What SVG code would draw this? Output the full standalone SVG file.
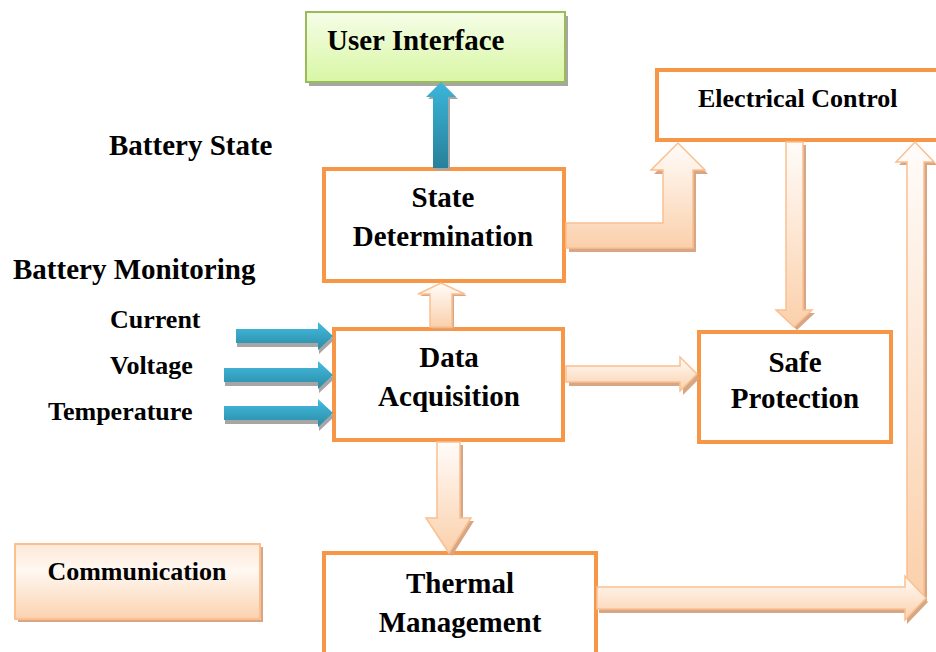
<svg xmlns="http://www.w3.org/2000/svg" width="936" height="652" viewBox="0 0 936 652">
<style>
.box{fill:#ffffff;stroke:#f79646;stroke-width:4}
.t{font-family:"Liberation Serif","Times New Roman",serif;font-weight:bold;fill:#000}
.big{font-size:29px}
.mid{font-size:26px}
.pa{fill:url(#peach);stroke:#fac090;stroke-width:1.5;stroke-linejoin:miter}
.ps{fill:#d7a684}
.ba{fill:url(#blue)}
.bs{fill:#a6a6a6}
</style>
<defs>
<linearGradient id="peach" x1="0" y1="0" x2="0" y2="1">
<stop offset="0" stop-color="#fffcfa"/>
<stop offset="1" stop-color="#fbd0ab"/>
</linearGradient>
<linearGradient id="blue" x1="0" y1="0" x2="0" y2="1">
<stop offset="0" stop-color="#45bde0"/>
<stop offset="1" stop-color="#2a8aa6"/>
</linearGradient>
<linearGradient id="blueV" x1="0" y1="0" x2="0" y2="1">
<stop offset="0" stop-color="#3cb6da"/>
<stop offset="1" stop-color="#27809a"/>
</linearGradient>
<linearGradient id="green" x1="0" y1="0" x2="0" y2="1">
<stop offset="0" stop-color="#f6fde8"/>
<stop offset="1" stop-color="#d8f7a4"/>
</linearGradient>
<linearGradient id="comm" x1="0" y1="0" x2="0" y2="1">
<stop offset="0" stop-color="#fde8d6"/>
<stop offset="0.35" stop-color="#fff8f2"/>
<stop offset="1" stop-color="#fbd2b0"/>
</linearGradient>
</defs>

<g id="labels">
<text class="t big" x="109" y="155">Battery State</text>
<text class="t big" x="13" y="279">Battery Monitoring</text>
<text class="t mid" x="110" y="328">Current</text>
<text class="t mid" x="110" y="374">Voltage</text>
<text class="t mid" x="48" y="420">Temperature</text>
</g>

<g id="user-interface">
<rect x="309" y="16" width="259" height="70" fill="#a6a6a6"/>
<rect x="306" y="12" width="259" height="70" fill="url(#green)" stroke="#9bbb59" stroke-width="2"/>
<text class="t big" x="327" y="50">User Interface</text>
</g>

<g id="electrical-control">
<rect class="box" x="657" y="70" width="300" height="70"/>
<text class="t mid" x="698" y="107">Electrical Control</text>
</g>

<g id="state-determination">
<rect class="box" x="324" y="169" width="240" height="112"/>
<text class="t big" x="443" y="207" text-anchor="middle">State</text>
<text class="t big" x="443" y="246" text-anchor="middle">Determination</text>
</g>

<g id="data-acquisition">
<rect class="box" x="334" y="329" width="229" height="111"/>
<text class="t big" x="449" y="367" text-anchor="middle">Data</text>
<text class="t big" x="449" y="406" text-anchor="middle">Acquisition</text>
</g>

<g id="safe-protection">
<rect class="box" x="699" y="332" width="192" height="110"/>
<text class="t big" x="795" y="372" text-anchor="middle">Safe</text>
<text class="t big" x="795" y="408" text-anchor="middle">Protection</text>
</g>

<g id="thermal-management">
<rect class="box" x="324" y="553" width="272" height="120"/>
<text class="t big" x="460" y="593" text-anchor="middle">Thermal</text>
<text class="t big" x="460" y="632" text-anchor="middle">Management</text>
</g>

<g id="communication">
<rect x="18" y="547" width="245" height="75" fill="#d7a684"/>
<rect x="15" y="544" width="245" height="75" fill="url(#comm)" stroke="#fac090" stroke-width="2"/>
<text class="t mid" x="137" y="580" text-anchor="middle">Communication</text>
</g>

<g id="connectors">
<!-- State Determination -> User Interface -->
<path d="M433,168 L433,97 L426,97 L441,82 L456,97 L448,97 L448,168 Z" fill="#a6a6a6" transform="translate(2,2)"/>
<path d="M433,168 L433,97 L426,97 L441,82 L456,97 L448,97 L448,168 Z" fill="url(#blueV)"/>

<!-- inputs -->
<path id="inC" d="M236,329 L318,329 L318,322 L333,336 L318,350 L318,343 L236,343 Z" class="bs" transform="translate(1,4)"/>
<path d="M236,329 L318,329 L318,322 L333,336 L318,350 L318,343 L236,343 Z" class="ba"/>
<path d="M224,368 L318,368 L318,361 L333,375 L318,389 L318,382 L224,382 Z" class="bs" transform="translate(1,4)"/>
<path d="M224,368 L318,368 L318,361 L333,375 L318,389 L318,382 L224,382 Z" class="ba"/>
<path d="M224,406 L318,406 L318,399 L333,413 L318,427 L318,420 L224,420 Z" class="bs" transform="translate(1,4)"/>
<path d="M224,406 L318,406 L318,399 L333,413 L318,427 L318,420 L224,420 Z" class="ba"/>

<!-- State Determination -> Electrical Control (elbow) -->
<path d="M566,223 L663,223 L663,170 L651,170 L678,143 L705,170 L693,170 L693,248 L566,248 Z" class="ps" transform="translate(3,4)"/>
<path d="M566,223 L663,223 L663,170 L651,170 L678,143 L705,170 L693,170 L693,248 L566,248 Z" class="pa"/>

<!-- Data Acquisition -> State Determination -->
<path d="M430,327 L430,294 L418,294 L441,283 L465,294 L452,294 L452,327 Z" class="ps" transform="translate(2,2)"/>
<path d="M430,327 L430,294 L418,294 L441,283 L465,294 L452,294 L452,327 Z" class="pa"/>

<!-- Data Acquisition -> Safe Protection -->
<path d="M566,366 L680,366 L680,357 L697,374 L680,391 L680,382 L566,382 Z" class="ps" transform="translate(3,4)"/>
<path d="M566,366 L680,366 L680,357 L697,374 L680,391 L680,382 L566,382 Z" class="pa"/>

<!-- Electrical Control -> Safe Protection -->
<path d="M786,142 L803,142 L803,310 L812,310 L794,327 L776,310 L786,310 Z" class="ps" transform="translate(3,3)"/>
<path d="M786,142 L803,142 L803,310 L812,310 L794,327 L776,310 L786,310 Z" class="pa"/>

<!-- Data Acquisition -> Thermal Management -->
<path d="M437,442 L460,442 L460,518 L471,518 L449,553 L426,518 L437,518 Z" class="ps" transform="translate(3,3)"/>
<path d="M437,442 L460,442 L460,518 L471,518 L449,553 L426,518 L437,518 Z" class="pa"/>

<!-- Thermal Management -> Electrical Control (right column) -->
<path d="M907,162 L896,162 L915,142 L934,162 L924,162 L924,598 L907,581 Z" class="ps" transform="translate(3,3)"/>
<path d="M907,162 L896,162 L915,142 L934,162 L924,162 L924,598 L907,581 Z" class="pa"/>
<path d="M597,587 L905,587 L905,576 L926,598 L905,620 L905,609 L597,609 Z" class="ps" transform="translate(2,4)"/>
<path d="M597,587 L905,587 L905,576 L926,598 L905,620 L905,609 L597,609 Z" class="pa"/>
</g>
</svg>
